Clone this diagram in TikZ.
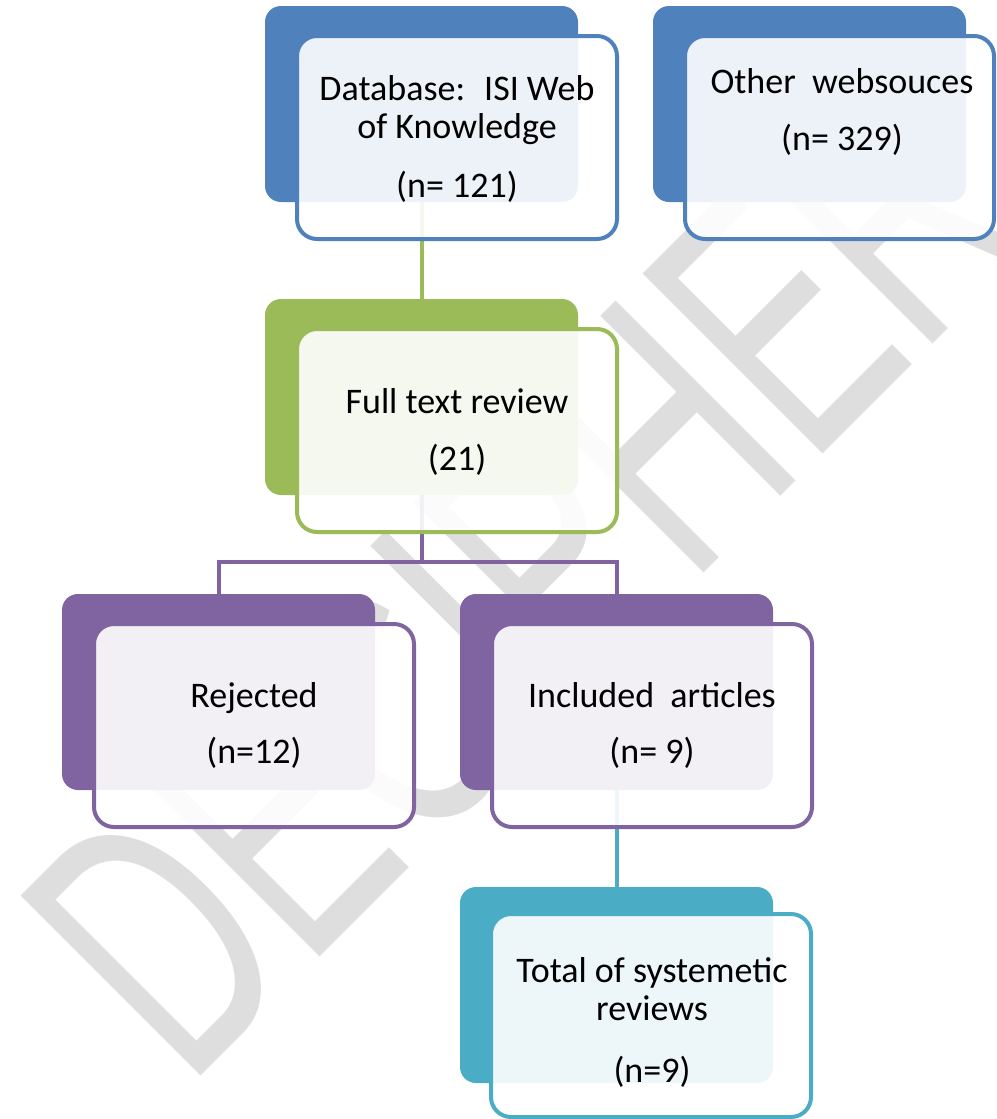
\documentclass[tikz,border=0pt]{standalone}
\usepackage{fontspec}
\setmainfont{Carlito}
\newfontfamily\wmfont{Liberation Sans}
\usepackage{graphicx}
\definecolor{cblue}{HTML}{4F81BD}
\definecolor{cgreen}{HTML}{9BBB59}
\definecolor{cpurple}{HTML}{8064A2}
\definecolor{cteal}{HTML}{4BACC6}
\definecolor{wmgray}{HTML}{DEDEDE}
\begin{document}
\begin{tikzpicture}[x=1pt,y=-1pt,
  back/.style={rectangle, rounded corners=16pt, fill=#1, anchor=north west,
    minimum width=313pt, minimum height=196pt, inner sep=0pt, outer sep=0pt},
  front/.style={rectangle, rounded corners=20pt, draw=#1, line width=4pt,
    fill=white, fill opacity=0.9, anchor=north west,
    minimum width=320pt, minimum height=203pt, inner sep=0pt, outer sep=0pt},
  conn/.style={line width=4pt, draw=#1},
  txt/.style={anchor=base, inner sep=0pt, font=\fontsize{36}{38}\selectfont},
]
\useasboundingbox (0,0) rectangle (996,1119);

% watermark
\node[anchor=base west, rotate=45, inner sep=0pt, text=wmgray] (wmark) at (187,1090)
  {\wmfont\fontsize{370}{370}\selectfont\scalebox{0.63}[1]{DECIPHER}};

% back panels
\node[back=cblue]   (b1) at (265,6) {};
\node[back=cblue]   (b2) at (653,6) {};
\node[back=cgreen]  (b3) at (265,299) {};
\node[back=cpurple] (b4) at (62,594) {};
\node[back=cpurple] (b5) at (460,594) {};
\node[back=cteal]   (b6) at (460,887) {};

% connectors
\coordinate (split) at (421.5,562);
\draw[conn=cgreen] (b1.south) -- (b3.north);
\draw[conn=cpurple] (b3.south) -- (split);
\draw[conn=cpurple] (b4.north) |- (split) -| (b5.north);
\draw[conn=cteal] (b5.south) -- (b6.north);

% front panels
\node[front=cblue]   (f1) at (297,36) {};
\node[front=cblue, minimum width=309pt] (f2) at (685,36) {};
\node[front=cgreen]  (f3) at (297,329) {};
\node[front=cpurple] (f4) at (94,624) {};
\node[front=cpurple] (f5) at (492,624) {};
\node[front=cteal]   (f6) at (491,914) {};

% texts
\node[txt] (t1a) at (457,100) {Database: \ ISI Web};
\node[txt] (t1b) at (457,138) {of Knowledge};
\node[txt] (t1c) at (457,197) {(n= 121)};
\node[txt] (t2a) at (842,93) {Other \ websouces};
\node[txt] (t2b) at (842,150) {(n= 329)};
\node[txt] (t3a) at (457,413) {Full text review};
\node[txt] (t3b) at (457,470) {(21)};
\node[txt] (t4a) at (254,707) {Rejected};
\node[txt] (t4b) at (254,763) {(n=12)};
\node[txt] (t5a) at (652,707) {Included \ articles};
\node[txt] (t5b) at (652,763) {(n= 9)};
\node[txt] (t6a) at (652,982) {Total of systemetic};
\node[txt] (t6b) at (652,1020) {reviews};
\node[txt] (t6c) at (652,1082) {(n=9)};
\end{tikzpicture}
\end{document}
